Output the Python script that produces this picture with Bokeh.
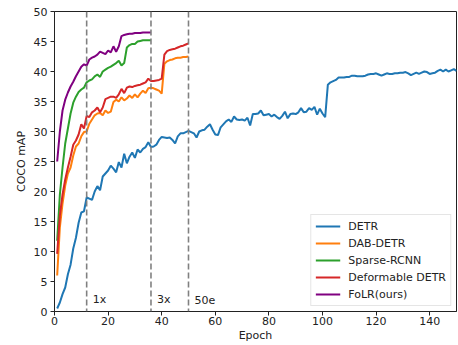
from bokeh.plotting import figure
from bokeh.models import Span, Label, Legend, LegendItem, FixedTicker
from bokeh.embed import file_html
from bokeh.resources import INLINE

detr = [0.5, 1.5, 2.9, 4.0, 6.2, 7.8, 10.5, 12.3, 14.8, 16.5,
        16.7, 19.0, 18.8, 18.6, 20.0, 20.9, 20.2, 22.5, 23.0, 23.5,
        24.3, 23.8, 23.2, 24.9, 24.0, 26.3, 24.7, 25.8, 26.5, 25.6,
        27.0, 26.5, 27.1, 27.4, 28.2, 27.4, 27.5, 27.8, 28.6, 29.1,
        29.0, 28.9, 29.0, 28.6, 28.0, 29.2, 29.7, 29.7, 29.9, 30.1,
        29.9, 29.7, 29.0, 30.0, 30.2, 30.3, 30.8, 31.2, 30.3, 29.5,
        29.4, 30.7, 31.2, 31.7, 32.0, 31.6, 32.5, 32.0, 31.9, 32.0,
        31.8, 32.3, 31.0, 32.9, 32.9, 33.0, 33.5, 32.7, 32.8, 32.9,
        32.5, 32.8, 32.4, 32.1, 32.6, 33.3, 32.2, 32.9, 33.0, 32.9,
        33.2, 33.9, 33.2, 33.3, 33.9, 33.6, 34.1, 32.8, 33.8, 33.0,
        32.4, 37.8, 38.2, 38.4, 38.6, 39.0, 39.0, 39.0, 39.1, 39.1,
        39.3, 39.3, 39.2, 39.2, 39.2, 39.3, 39.5, 39.6, 39.6, 39.7,
        39.5, 39.3, 39.5, 39.7, 39.6, 39.6, 39.7, 39.7, 39.8, 39.8,
        39.9, 39.7, 39.4, 39.6, 39.8, 39.6, 39.8, 40.0, 39.9, 39.6,
        39.7, 39.8, 40.1, 40.3, 40.0, 40.3, 40.0, 40.2, 40.4, 40.1]

dab_detr = [6.0, 14.0, 18.0, 21.0, 23.0, 24.0, 26.0, 27.5, 28.0, 29.2,
            29.9, 30.0, 31.3, 32.0, 32.7, 33.0, 33.1, 32.7, 33.5, 33.1,
            33.3, 34.9, 35.3, 35.0, 35.7, 35.2, 35.5, 36.0, 35.6, 36.2,
            35.7, 36.3, 36.8, 36.4, 37.2, 37.3, 37.2, 37.0, 36.8, 36.3,
            41.3, 41.7, 41.9, 42.0, 42.2, 42.3, 42.3, 42.4, 42.4, 42.5]

sparse_rcnn = [11.8, 19.5, 24.0, 28.0, 30.5, 33.0, 34.8, 35.8, 36.6, 37.0,
               37.3, 38.2, 38.5, 38.7, 39.2, 39.5, 39.1, 40.0, 40.3, 40.6,
               40.8, 41.1, 41.4, 41.8, 41.0, 41.4, 44.0, 44.4, 44.6, 44.6,
               45.0, 45.1, 45.2, 45.2, 45.2, 45.2]

deformable_detr = [9.6, 16.0, 19.5, 22.0, 24.0, 25.8, 27.8, 28.5, 29.5, 31.2,
                   30.5, 32.6, 32.4, 33.2, 33.5, 34.0, 33.2, 34.0, 35.4, 35.6,
                   35.8, 35.8, 35.6, 36.2, 37.1, 36.4, 37.3, 37.5, 37.4, 37.6,
                   37.7, 37.8, 38.0, 38.2, 38.8, 38.4, 38.4, 38.5, 38.6, 38.8,
                   42.8, 43.4, 43.6, 43.7, 43.8, 44.0, 44.2, 44.3, 44.5, 44.7]

folr = [25.0, 30.0, 33.5, 35.3, 36.5, 37.5, 38.3, 39.2, 40.0, 40.8,
        41.2, 41.0, 42.0, 42.3, 42.5, 42.8, 43.3, 43.1, 42.9, 43.5,
        43.2, 44.2, 43.3, 44.2, 45.9, 46.1, 46.2, 46.3, 46.3, 46.4,
        46.4, 46.4, 46.5, 46.5, 46.5, 46.5]

series_names = ["DETR", "DAB-DETR", "Sparse-RCNN", "Deformable DETR", "FoLR(ours)"]
series_values = [detr, dab_detr, sparse_rcnn, deformable_detr, folr]
series_colors = ["#1f77b4", "#ff7f0e", "#2ca02c", "#d62728", "#800080"]

milestones = [12, 36, 50]
milestone_labels = ["1x", "3x", "50e"]

x_ticks = [0, 20, 40, 60, 80, 100, 120, 140]
y_ticks = [0, 5, 10, 15, 20, 25, 30, 35, 40, 45, 50]

FONT = "DejaVu Sans"

p = figure(width=458, height=345, x_range=(0, 150), y_range=(0, 50),
           output_backend="svg", toolbar_location=None,
           min_border_left=54, min_border_right=2, min_border_top=11,
           min_border_bottom=34)
p.xgrid.visible = False
p.ygrid.visible = False
p.outline_line_color = "#222222"
p.outline_line_width = 1
p.background_fill_color = "white"
p.border_fill_color = "white"

for ax in (p.xaxis[0], p.yaxis[0]):
    ax.axis_line_color = "#222222"
    ax.major_tick_line_color = "#222222"
    ax.major_tick_out = 4
    ax.major_tick_in = 0
    ax.minor_tick_line_color = None
    ax.major_label_text_font = FONT
    ax.major_label_text_font_size = "11px"
    ax.major_label_text_color = "#222222"
    ax.axis_label_text_font = FONT
    ax.axis_label_text_font_size = "11px"
    ax.axis_label_text_font_style = "normal"
    ax.axis_label_text_color = "#222222"

p.xaxis[0].major_label_standoff = 1
p.xaxis[0].axis_label_standoff = 1
p.yaxis[0].major_label_standoff = 3
p.yaxis[0].axis_label_standoff = 3

p.xaxis[0].ticker = FixedTicker(ticks=x_ticks)
p.yaxis[0].ticker = FixedTicker(ticks=y_ticks)
p.xaxis[0].axis_label = "Epoch"
p.yaxis[0].axis_label = "COCO mAP"

for m, lab in zip(milestones, milestone_labels):
    p.add_layout(Span(location=m, dimension="height", line_color="#808080",
                      line_width=1.6, line_dash="6 3"))
    p.add_layout(Label(x=m, y=2, text=lab, x_offset=6, text_font=FONT,
                       text_font_size="11px", text_color="#222222",
                       text_baseline="alphabetic"))

items = []
for name, vals, col in zip(series_names, series_values, series_colors):
    epochs = list(range(1, len(vals) + 1))
    r = p.line(epochs, vals, line_color=col, line_width=2)
    items.append(LegendItem(label=name, renderers=[r]))

legend = Legend(items=items, location="bottom_right")
legend.label_text_font = FONT
legend.label_text_font_size = "11px"
legend.label_text_color = "#222222"
legend.glyph_width = 25
legend.glyph_height = 14
legend.label_height = 14
legend.spacing = 3
legend.padding = 4
legend.margin = 5
legend.label_standoff = 8
legend.border_line_color = "#cccccc"
legend.border_line_width = 1
legend.background_fill_alpha = 0.85
p.add_layout(legend)

open("out.html", "w").write(file_html(p, INLINE))
